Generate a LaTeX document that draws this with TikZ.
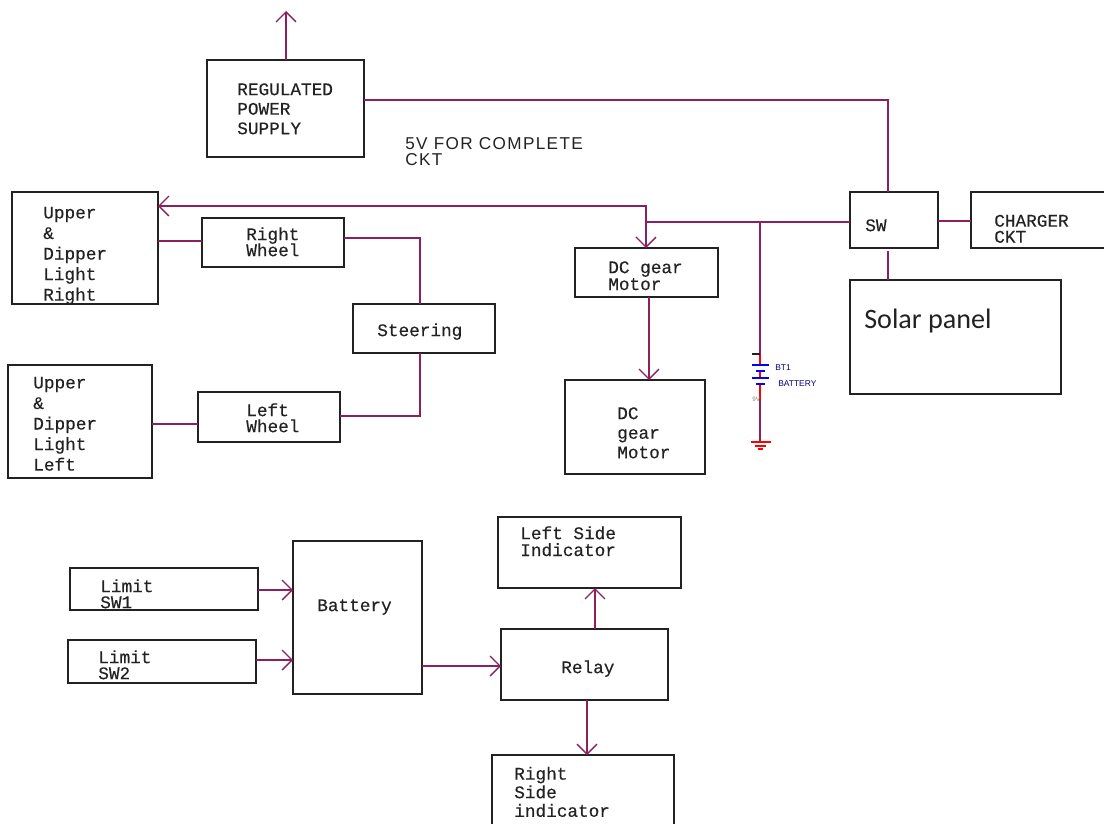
\documentclass[tikz,border=0pt]{standalone}
\usepackage{fontspec}
\setmainfont{Liberation Sans}
\setmonofont[FakeBold=0.3]{Liberation Mono}
\newfontfamily\solarfont{Carlito}
\usetikzlibrary{arrows.meta}
\definecolor{wirecol}{HTML}{8E1F5E}
\definecolor{boxcol}{HTML}{222222}
\normallineskiplimit=-10pt
\lineskiplimit=-10pt
\tikzset{
  blockbox/.style={draw=boxcol,line width=1.35pt,anchor=north west,inner sep=0pt,outer sep=0pt},
  blocktxt/.style={anchor=north west,inner sep=0pt,align=left,text=boxcol,font=\ttfamily\fontsize{12.6}{13.9}\selectfont},
  tighttxt/.style={blocktxt,font=\ttfamily\fontsize{12.6}{11.4}\selectfont},
  wire/.style={draw=wirecol,line width=1.25pt},
  arrowwire/.style={wire,-{Straight Barb[length=2.5mm,width=5mm,line width=0.9pt]}}
}
\begin{document}
\begin{tikzpicture}[x=0.025cm,y=-0.025cm]
  \useasboundingbox (0,0) rectangle (1104,823);
  % top row
  \node[blockbox,minimum width=157*0.025cm,minimum height=97*0.025cm] (reg) at (207,60) {};
  \node[blocktxt] (regtxt) at (237,83) {REGULATED\\POWER\\SUPPLY};
  \node[anchor=north west,inner sep=0pt,align=left,text=boxcol,font=\addfontfeature{LetterSpace=8}\fontsize{12.2}{11.5}\selectfont] (fivev) at (405,137) {5V FOR COMPLETE\\CKT};
  \node[blockbox,minimum width=88*0.025cm,minimum height=56*0.025cm] (sw) at (850,192) {};
  \node[blocktxt] (swtxt) at (865,219) {SW};
  \node[blockbox,minimum width=140*0.025cm,minimum height=56*0.025cm] (charger) at (971,192) {};
  \node[tighttxt] (chargertxt) at (994,214.5) {CHARGER\\CKT};
  \node[blockbox,minimum width=211*0.025cm,minimum height=114*0.025cm] (solar) at (850,280) {};
  \node[anchor=north west,inner sep=0pt,text=boxcol,font=\solarfont\fontsize{20}{22}\selectfont] (solartxt) at (864,309) {Solar panel};
  % lights and wheels
  \node[blockbox,minimum width=146*0.025cm,minimum height=112*0.025cm] (upright) at (12,192) {};
  \node[blocktxt,font=\ttfamily\fontsize{12.6}{14.6}\selectfont] (uprighttxt) at (43,206.5) {Upper\\\&\\Dipper\\Light\\Right};
  \node[blockbox,minimum width=142*0.025cm,minimum height=49*0.025cm] (rwheel) at (202,218) {};
  \node[tighttxt] (rwheeltxt) at (246,227) {Right\\Wheel};
  \node[blockbox,minimum width=142*0.025cm,minimum height=49*0.025cm] (steer) at (353,304) {};
  \node[blocktxt] (steertxt) at (377,323) {Steering};
  \node[blockbox,minimum width=144*0.025cm,minimum height=113*0.025cm] (upleft) at (8,365) {};
  \node[blocktxt,font=\ttfamily\fontsize{12.6}{14.6}\selectfont] (uplefttxt) at (33,376.5) {Upper\\\&\\Dipper\\Light\\Left};
  \node[blockbox,minimum width=142*0.025cm,minimum height=50*0.025cm] (lwheel) at (198,392) {};
  \node[tighttxt] (lwheeltxt) at (246,403) {Left\\Wheel};
  % motors
  \node[blockbox,minimum width=143*0.025cm,minimum height=49*0.025cm] (motora) at (575,248) {};
  \node[blocktxt,font=\ttfamily\fontsize{12.6}{12}\selectfont] (motoratxt) at (608,261) {DC gear\\Motor};
  \node[blockbox,minimum width=140*0.025cm,minimum height=94*0.025cm] (motorb) at (565,380) {};
  \node[blocktxt] (motorbtxt) at (617,407) {DC\\gear\\Motor};
  % lower group
  \node[blockbox,minimum width=188*0.025cm,minimum height=42*0.025cm] (limita) at (70,568) {};
  \node[tighttxt] (limitatxt) at (100,579) {Limit\\SW1};
  \node[blockbox,minimum width=188*0.025cm,minimum height=43*0.025cm] (limitb) at (68,640) {};
  \node[tighttxt] (limitbtxt) at (98,650) {Limit\\SW2};
  \node[blockbox,minimum width=129*0.025cm,minimum height=153*0.025cm] (batt) at (293,541) {};
  \node[blocktxt] (batttxt) at (317,599) {Battery};
  \node[blockbox,minimum width=183*0.025cm,minimum height=71*0.025cm] (leftind) at (498,517) {};
  \node[blocktxt,font=\ttfamily\fontsize{12.6}{12}\selectfont] (leftindtxt) at (520,526) {Left Side\\Indicator};
  \node[blockbox,minimum width=167*0.025cm,minimum height=71*0.025cm] (relay) at (501,629) {};
  \node[blocktxt] (relaytxt) at (561,660) {Relay};
  \node[blockbox,minimum width=182*0.025cm,minimum height=80*0.025cm] (rightind) at (492,755) {};
  \node[blocktxt,font=\ttfamily\fontsize{12.6}{13.2}\selectfont] (rightindtxt) at (514,766.5) {Right\\Side\\indicator};
  % connector ends
  \coordinate (regtop) at (286,60);
  \coordinate (regtip) at (286,11);
  \coordinate (regout) at (364,100);
  \coordinate (swtop) at (888,192);
  \coordinate (swleft) at (850,222);
  \coordinate (tee) at (646,222);
  \coordinate (teeup) at (646,206);
  \coordinate (uprightin) at (158,206);
  \coordinate (motorain) at (646,248);
  \coordinate (swright) at (938,221);
  \coordinate (chargerin) at (971,221);
  \coordinate (swbot) at (888,251);
  \coordinate (solartop) at (888,280);
  \coordinate (uprightout) at (158,241);
  \coordinate (rwheelin) at (202,241);
  \coordinate (rwheelout) at (344,238);
  \coordinate (steertop) at (420,304);
  \coordinate (steerbot) at (420,353);
  \coordinate (lwheelout) at (340,416);
  \coordinate (lwheelin) at (198,424);
  \coordinate (upleftout) at (152,424);
  \coordinate (motoraout) at (649,297);
  \coordinate (motorbin) at (649,380);
  % connectors
  \draw[arrowwire] (regtop) -- (regtip);
  \draw[wire] (regout) -| (swtop);
  \draw[wire] (swleft) -- (tee);
  \draw[arrowwire] (tee) -- (teeup) -- (uprightin);
  \draw[arrowwire] (tee) -- (motorain);
  \draw[wire] (swright) -- (chargerin);
  \draw[wire] (swbot) -- (solartop);
  \draw[wire] (uprightout) -- (rwheelin);
  \draw[wire] (rwheelout) -| (steertop);
  \draw[wire] (steerbot) |- (lwheelout);
  \draw[wire] (lwheelin) -- (upleftout);
  \draw[arrowwire] (motoraout) -- (motorbin);
  \draw[arrowwire] (limita.east |- 0,590) -- (batt.west |- 0,590);
  \draw[arrowwire] (limitb.east |- 0,660) -- (batt.west |- 0,660);
  \draw[arrowwire] (batt.east |- 0,666) -- (relay.west |- 0,666);
  \draw[arrowwire] (595,629) -- (595,588);
  \draw[arrowwire] (587,700) -- (587,755);
  % battery branch
  \draw[wire] (760,222) -- (760,354);
  \draw[wire] (760,400) -- (760,441);
  \draw[red,line width=1.05pt] (760,354) -- (760,365) (760,371) -- (760,378) (760,385) -- (760,400);
  \draw[boxcol,line width=0.8pt] (752,354) -- (760,354);
  \draw[blue,line width=1.05pt] (752,365) -- (769,365) (756,371) -- (765,371) (752,378) -- (769,378) (756,384) -- (765,384);
  \draw[red,line width=1.05pt] (751,442) -- (771,442) (755,446) -- (766,446) (758,449) -- (763,449);
  \node[anchor=west,inner sep=0pt,text=blue!50!black,font=\fontsize{6}{7}\selectfont] (bttxt) at (775,368) {BT1};
  \node[anchor=west,inner sep=0pt,text=blue!50!black,font=\fontsize{6}{7}\selectfont] (batterytxt) at (778,384) {BATTERY};
  \node[anchor=west,inner sep=0pt,text=gray,font=\fontsize{4.5}{5}\selectfont] (ninev) at (752,399) {9V};
\end{tikzpicture}
\end{document}
